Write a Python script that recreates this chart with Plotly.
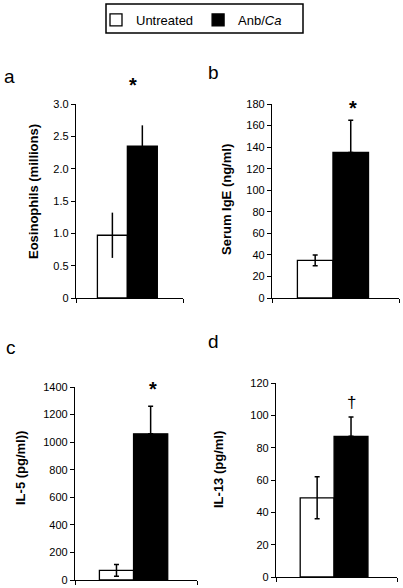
import plotly.graph_objects as go

W, H = 403, 588

# ---------------- data ----------------
groups = ["Untreated", "Anb/<i>Ca</i>"]
eos_mean = [0.97, 2.35]
eos_err = [0.35, 0.32]
ige_mean = [35, 135]
ige_err = [5, 30]
il5_mean = [70, 1060]
il5_err = [42, 200]
il13_mean = [49, 87]
il13_err = [13, 12]

eos_ticks = [0, 0.5, 1.0, 1.5, 2.0, 2.5, 3.0]
eos_ticktext = ["0", "0.5", "1.0", "1.5", "2.0", "2.5", "3.0"]
ige_ticks = list(range(0, 181, 20))
il5_ticks = list(range(0, 1401, 200))
il13_ticks = list(range(0, 121, 20))

titles = ["Eosinophils (millions)", "Serum IgE (ng/ml)", "IL-5 (pg/ml))", "IL-13 (pg/ml)"]
panel_letters = ["a", "b", "c", "d"]
marks = ["*", "*", "*", "\u2020"]

# ---------------- layout helpers ----------------
FONT = "Liberation Sans, Arial, sans-serif"
bar_pos = [0.34, 0.62]
bar_w = 0.28
fills = ["white", "black"]

def px_x(p):
    return p / W

def px_y(p):
    return 1 - p / H

panels = [
    # x0, x1, ytop, ybottom (pixels)
    dict(box=(76, 183, 104, 298), mean=eos_mean, err=eos_err, rng=[0, 3.0],
         tv=eos_ticks, tt=eos_ticktext, cap=0),
    dict(box=(272, 399, 104, 298), mean=ige_mean, err=ige_err, rng=[0, 180],
         tv=ige_ticks, tt=[str(v) for v in ige_ticks], cap=2.5),
    dict(box=(75, 197, 387, 580), mean=il5_mean, err=il5_err, rng=[0, 1400],
         tv=il5_ticks, tt=[str(v) for v in il5_ticks], cap=2.5),
    dict(box=(276, 397, 383, 577), mean=il13_mean, err=il13_err, rng=[0, 120],
         tv=il13_ticks, tt=[str(v) for v in il13_ticks], cap=2.5),
]

fig = go.Figure()
annotations = []

title_pos = [(34, 192), (227, 200), (20, 468), (218, 470)]
letter_pos = [(9, 77), (213, 73), (11, 347), (213, 341)]
mark_pos = [(133, 85), (353, 108), (153, 389), (351, 402)]

for i, p in enumerate(panels):
    xa = "x" if i == 0 else f"x{i+1}"
    ya = "y" if i == 0 else f"y{i+1}"
    for j in range(2):
        fig.add_trace(go.Bar(
            x=[bar_pos[j]], y=[p["mean"][j]], width=bar_w,
            name=groups[j], showlegend=(i == 0),
            marker=dict(color=fills[j], line=dict(color="black", width=1.3)),
            error_y=dict(type="data", array=[p["err"][j]], symmetric=(j == 0),
                         arrayminus=None if j == 0 else [0],
                         color="black", thickness=1.5, width=p["cap"]),
            xaxis=xa, yaxis=ya,
        ))
    x0, x1, yt, yb = p["box"]
    axx = dict(domain=[px_x(x0), px_x(x1)], range=[0, 1], anchor=ya,
               showline=True, linecolor="black", linewidth=1.3,
               ticks="outside", ticklen=4, tickwidth=1.3, tickcolor="black",
               tickvals=[0, 1], showticklabels=False, showgrid=False,
               zeroline=False, fixedrange=True)
    axy = dict(domain=[px_y(yb), px_y(yt)], range=p["rng"], anchor=xa,
               showline=True, linecolor="black", linewidth=1.3,
               ticks="outside", ticklen=4, tickwidth=1.3, tickcolor="black",
               tickvals=p["tv"], ticktext=p["tt"], showgrid=False,
               zeroline=False, tickfont=dict(family=FONT, size=11, color="black"),
               fixedrange=True)
    key = "" if i == 0 else str(i + 1)
    fig.update_layout(**{f"xaxis{key}": axx, f"yaxis{key}": axy})

    tx, ty = title_pos[i]
    annotations.append(dict(text=f"<b>{titles[i]}</b>", x=px_x(tx), y=px_y(ty),
                            xref="paper", yref="paper", textangle=-90,
                            showarrow=False, xanchor="center", yanchor="middle",
                            font=dict(family=FONT, size=13, color="black")))
    lx, ly = letter_pos[i]
    annotations.append(dict(text=panel_letters[i], x=px_x(lx), y=px_y(ly),
                            xref="paper", yref="paper", showarrow=False,
                            xanchor="center", yanchor="middle",
                            font=dict(family=FONT, size=19, color="black")))
    mx, my = mark_pos[i]
    annotations.append(dict(text=f"<b>{marks[i]}</b>" if i < 3 else marks[i],
                            x=px_x(mx), y=px_y(my),
                            xref="paper", yref="paper", showarrow=False,
                            xanchor="center", yanchor="middle",
                            font=dict(family=FONT, size=20 if i < 3 else 17, color="black")))

# legend frame
shapes = [dict(type="rect", xref="paper", yref="paper",
               x0=px_x(106), x1=px_x(303), y0=px_y(33), y1=px_y(4),
               line=dict(color="black", width=1.5), fillcolor="rgba(0,0,0,0)")]

fig.update_layout(
    width=W, height=H,
    margin=dict(l=0, r=0, t=0, b=0, autoexpand=False),
    paper_bgcolor="white", plot_bgcolor="white",
    barmode="overlay",
    annotations=annotations,
    shapes=shapes,
    showlegend=True,
    legend=dict(orientation="h", x=px_x(96), xanchor="left", y=px_y(5), yanchor="top",
                borderwidth=0, bgcolor="rgba(0,0,0,0)",
                font=dict(family=FONT, size=13, color="black"),
                itemwidth=30, traceorder="normal"),
)

fig.write_html("out.html", config={"displayModeBar": False},
               post_script="document.body.style.margin='0';document.body.style.overflow='hidden';")
